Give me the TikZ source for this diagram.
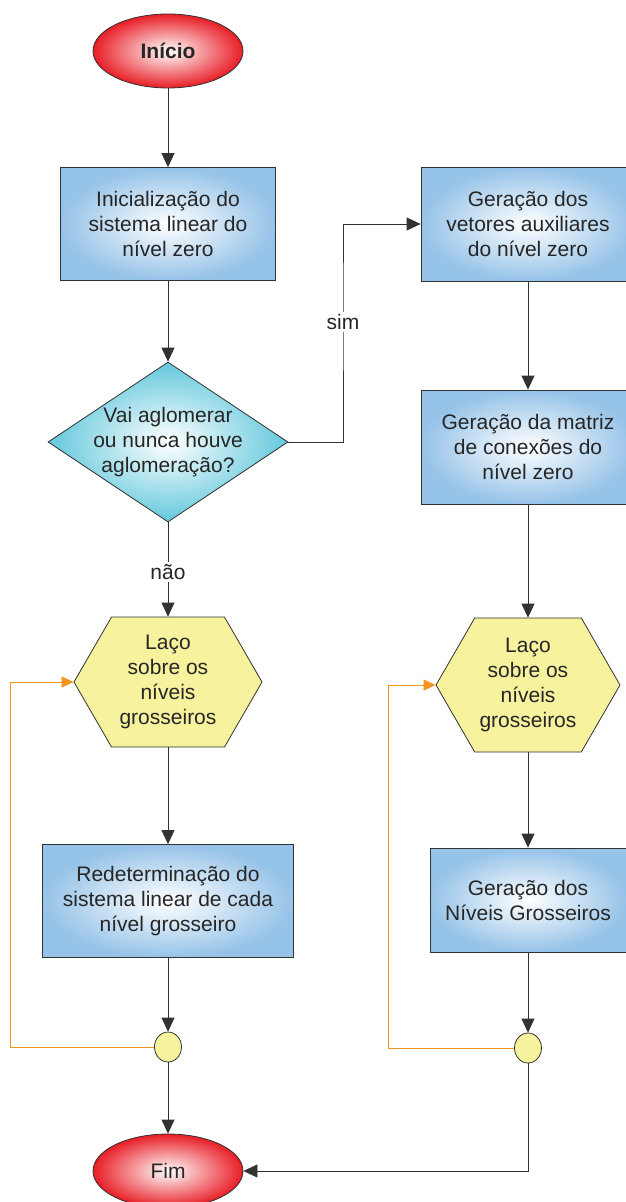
\documentclass[tikz,border=0pt]{standalone}
\usepackage{fontspec}
\setmainfont{Liberation Sans}
\usetikzlibrary{shapes.geometric,shapes.symbols,arrows.meta}

\definecolor{startred}{RGB}{232,30,38}
\definecolor{boxblue}{RGB}{150,195,232}
\definecolor{decicyan}{RGB}{100,200,220}
\definecolor{loopyellow}{RGB}{246,242,158}
\definecolor{looporange}{RGB}{247,148,30}
\definecolor{edgegray}{RGB}{50,50,50}

\begin{document}
\begin{tikzpicture}[x=1pt,y=-1pt,
  every node/.style={font=\fontsize{21}{25}\selectfont, text=black!85, align=center},
  terminal/.style={ellipse, draw=edgegray, line width=0.8pt, inner color=white, outer color=startred,
    minimum width=150pt, minimum height=74pt, inner sep=0pt},
  process/.style={rectangle, draw=edgegray, line width=0.8pt, inner color=white, outer color=boxblue, inner sep=0pt},
  decision/.style={diamond, draw=edgegray, line width=0.8pt, inner color=white, outer color=decicyan,
    aspect=1.5, minimum width=240pt, minimum height=160pt, inner sep=-3pt},
  loophex/.style={signal, signal to=west and east, signal pointer angle=120, draw=edgegray, line width=0.8pt,
    fill=loopyellow, minimum width=188pt, minimum height=130pt, inner sep=0pt},
  junction/.style={ellipse, draw=edgegray, line width=0.8pt, fill=loopyellow,
    minimum width=27pt, minimum height=30pt, inner sep=0pt},
  flow/.style={draw=edgegray, line width=0.8pt, -{Triangle[length=14pt,width=13pt]}},
  loopback/.style={draw=looporange, line width=0.8pt, -{Triangle[length=12pt,width=11pt]}},
  edgetext/.style={fill=white, inner sep=2pt}]

  \useasboundingbox (0,0) rectangle (626,1202);
  \clip (0,0) rectangle (626,1202);

  % left column
  \node[terminal, font=\bfseries\fontsize{21}{25}\selectfont] (inicio) at (168,51) {Início};
  \node[process, minimum width=215pt, minimum height=113pt] (initsys) at (168,224) {Inicialização do\\sistema linear do\\nível zero};
  \node[decision] (aglom) at (168,442) {Vai aglomerar\\ou nunca houve\\aglomeração?};
  \node[loophex] (loopA) at (168,682) {Laço\\sobre os\\níveis\\grosseiros};
  \node[process, minimum width=251pt, minimum height=113pt] (redet) at (168,901) {Redeterminação do\\sistema linear de cada\\nível grosseiro};
  \node[junction] (joinA) at (168,1047) {};
  \node[terminal] (fim) at (168,1171) {Fim};

  % right column
  \node[process, minimum width=214pt, minimum height=114pt] (vetaux) at (528,224) {Geração dos\\vetores auxiliares\\do nível zero};
  \node[process, minimum width=214pt, minimum height=114pt] (matcon) at (528,447) {Geração da matriz\\de conexões do\\nível zero};
  \node[loophex, minimum width=184pt, minimum height=134pt] (loopB) at (528,685) {Laço\\sobre os\\níveis\\grosseiros};
  \node[process, minimum width=196pt, minimum height=104pt] (gernivel) at (528,900) {Geração dos\\Níveis Grosseiros};
  \node[junction] (joinB) at (528,1048) {};

  \draw[flow] (inicio) -- (initsys);
  \draw[flow] (initsys) -- (aglom);
  \draw[flow] (aglom.south) -- (loopA.north);
  \draw[flow] (loopA.south) -- (redet.north);
  \draw[flow] (redet.south) -- (joinA.north);
  \draw[flow] (joinA.south) -- (fim.north);

  \draw[flow] (aglom.east) -| (343,300) |- (vetaux.west);
  \draw[flow] (vetaux.south) -- (matcon.north);
  \draw[flow] (matcon.south) -- (loopB.north);
  \draw[flow] (loopB.south) -- (gernivel.north);
  \draw[flow] (gernivel.south) -- (joinB.north);
  \draw[flow] (joinB.south) |- (fim.east);

  \draw[loopback] (joinA.west) -- ++(-144,0) |- (loopA.west);
  \draw[loopback] (joinB.west) -- ++(-126,0) |- (loopB.west);

  \node[edgetext] (simlabel) at (343,322) {sim};
  \node[edgetext] (naolabel) at (168,572) {não};
\end{tikzpicture}
\end{document}
